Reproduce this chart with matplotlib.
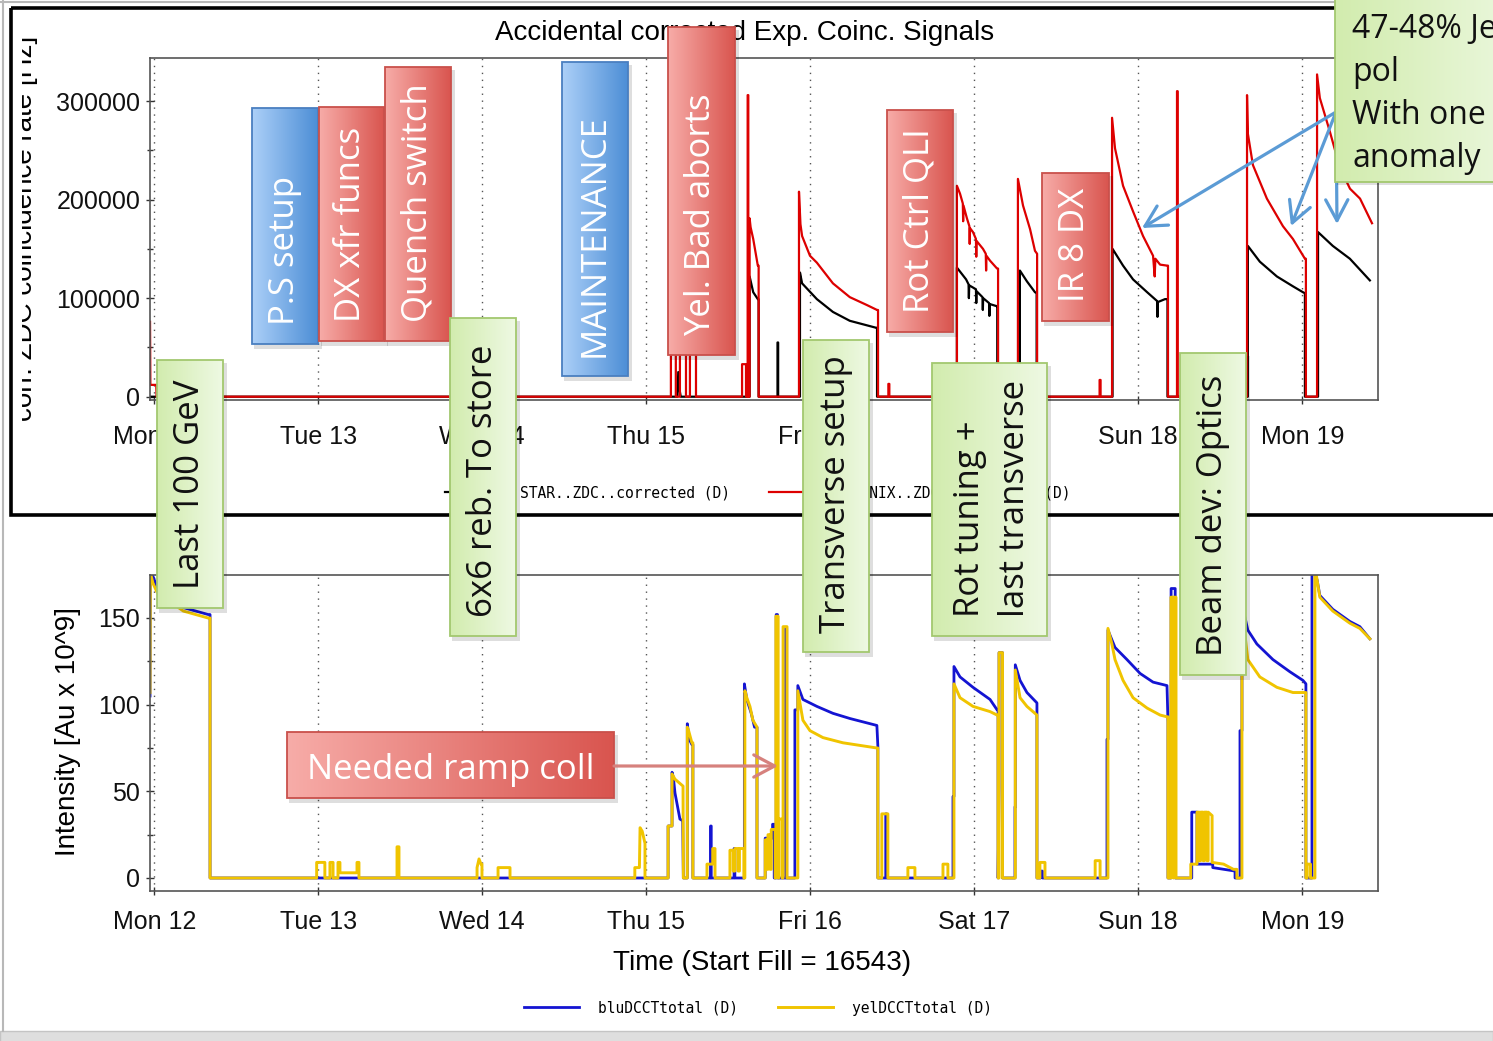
import numpy as np
import matplotlib.pyplot as plt
from matplotlib.patches import Rectangle
from matplotlib.colors import LinearSegmentedColormap
from matplotlib.transforms import Bbox, TransformedBbox

W, H = 1493, 1041

# x axis: days since Mon 12 00:00
days = [0, 1, 2, 3, 4, 5, 6, 7]
day_labels = ['Mon 12', 'Tue 13', 'Wed 14', 'Thu 15', 'Fri 16', 'Sat 17', 'Sun 18', 'Mon 19']

# --- top panel: ZDC coincidence rate [Hz] ---
phenix = [(-0.026, 76000), (-0.024, 12000), (0.012, 12000), (0.014, 0),
          (3.150, 0), (3.150, 44000), (3.180, 44000), (3.180, 0),
          (3.205, 0), (3.205, 44000), (3.242, 44000), (3.242, 0),
          (3.266, 0), (3.266, 44000), (3.303, 44000), (3.303, 0),
          (3.584, 0), (3.584, 33000), (3.608, 33000), (3.608, 0),
          (3.618, 0), (3.618, 306000), (3.622, 306000), (3.622, 0),
          (3.630, 0), (3.630, 181000), (3.636, 172000), (3.652, 160000), (3.680, 133000), (3.685, 133000), (3.685, 0),
          (3.931, 0), (3.931, 208000), (3.940, 175000), (3.950, 163000), (3.998, 143000), (4.040, 136000),
          (4.138, 115000), (4.241, 101000), (4.345, 93000), (4.407, 88000), (4.413, 88000), (4.413, 0),
          (4.476, 0), (4.476, 13000), (4.482, 13000), (4.482, 0),
          (4.894, 0), (4.894, 214000), (4.913, 206000), (4.930, 196000), (4.932, 178000), (4.934, 194000),
          (4.955, 181000), (4.970, 173000), (4.972, 155000), (4.974, 171000), (4.992, 167000), (5.010, 160000),
          (5.012, 142000), (5.014, 158000), (5.053, 150000), (5.070, 145000), (5.072, 128000), (5.074, 143000),
          (5.096, 138000), (5.139, 130000), (5.145, 130000), (5.145, 0),
          (5.266, 0), (5.266, 221000), (5.297, 194000), (5.340, 170000), (5.370, 148000), (5.383, 145000), (5.383, 0),
          (5.764, 0), (5.764, 17000), (5.770, 17000), (5.770, 0),
          (5.840, 0), (5.840, 283000), (5.858, 252000), (5.907, 214000), (5.968, 188000), (6.029, 163000),
          (6.090, 143000), (6.100, 122000), (6.104, 140000), (6.133, 134000), (6.175, 133000), (6.181, 133000), (6.181, 0),
          (6.236, 0), (6.236, 310000), (6.240, 310000), (6.240, 0),
          (6.663, 0), (6.663, 306000), (6.668, 267000), (6.699, 235000), (6.784, 201000), (6.882, 173000),
          (6.943, 160000), (7.016, 140000), (7.022, 140000), (7.022, 0),
          (7.090, 0), (7.090, 327000), (7.107, 303000), (7.168, 269000), (7.230, 232000), (7.291, 211000),
          (7.352, 201000), (7.425, 176000)]

star = [(-0.026, 0), (3.190, 0), (3.195, 25000), (3.205, 5000), (3.210, 0),
        (3.630, 0), (3.630, 122000), (3.652, 106000), (3.680, 99000), (3.685, 99000), (3.685, 0),
        (3.800, 0), (3.800, 55000), (3.804, 55000), (3.804, 0),
        (3.937, 0), (3.937, 126000), (3.950, 115000), (4.040, 99000), (4.138, 86000), (4.241, 77000),
        (4.400, 70000), (4.407, 70000), (4.407, 0),
        (4.894, 0), (4.894, 131000), (4.950, 119000), (4.965, 114000), (4.967, 100000), (4.969, 113000),
        (5.010, 109000), (5.012, 95000), (5.014, 107000), (5.050, 101000), (5.052, 88000), (5.054, 100000),
        (5.090, 95000), (5.092, 82000), (5.094, 94000), (5.134, 92000), (5.140, 92000), (5.140, 0),
        (5.278, 0), (5.278, 128000), (5.321, 117000), (5.370, 106000), (5.380, 105000), (5.380, 0),
        (5.843, 0), (5.843, 150000), (5.907, 133000), (5.968, 119000), (6.054, 106000), (6.115, 97000),
        (6.117, 81000), (6.119, 96000), (6.163, 99000), (6.178, 99000), (6.178, 0),
        (6.668, 0), (6.668, 153000), (6.741, 137000), (6.845, 122000), (6.943, 112000), (7.004, 106000),
        (7.016, 105000), (7.016, 0),
        (7.096, 0), (7.096, 167000), (7.186, 153000), (7.290, 140000), (7.412, 118000)]

# --- bottom panel: beam intensity [Au x 10^9] ---
blu = [(-0.026, 105), (-0.024, 178), (0.016, 168), (0.177, 156), (0.328, 152), (0.340, 152), (0.340, 0),
       (3.133, 0), (3.133, 30), (3.157, 30), (3.157, 61), (3.165, 58), (3.175, 49), (3.205, 34), (3.222, 33), (3.226, 0),
       (3.250, 0), (3.250, 89), (3.262, 80), (3.278, 77), (3.284, 77), (3.284, 0),
       (3.392, 0), (3.392, 30), (3.396, 30), (3.396, 0),
       (3.535, 0), (3.535, 17), (3.540, 17), (3.540, 0),
       (3.598, 0), (3.598, 112), (3.613, 103), (3.640, 95), (3.660, 87), (3.675, 87), (3.675, 0),
       (3.725, 0), (3.725, 23), (3.770, 23), (3.770, 31), (3.780, 31), (3.780, 0),
       (3.792, 0), (3.792, 152), (3.800, 152), (3.800, 0),
       (3.850, 0), (3.850, 144), (3.856, 144), (3.856, 0),
       (3.906, 0), (3.906, 97), (3.924, 97), (3.924, 111), (3.955, 103), (4.040, 99), (4.138, 95),
       (4.242, 92), (4.406, 88), (4.412, 76), (4.412, 0),
       (4.460, 0), (4.460, 37), (4.466, 37), (4.466, 0),
       (4.870, 0), (4.870, 47), (4.876, 47), (4.876, 122), (4.913, 116), (4.992, 110), (5.096, 103),
       (5.139, 97), (5.145, 97), (5.145, 0),
       (5.151, 52), (5.151, 130), (5.172, 130), (5.172, 0),
       (5.248, 0), (5.248, 41), (5.250, 41), (5.250, 123), (5.279, 114), (5.321, 107), (5.382, 101), (5.382, 0),
       (5.404, 0), (5.404, 4), (5.415, 4), (5.415, 0),
       (5.809, 0), (5.809, 80), (5.815, 80), (5.815, 143), (5.858, 133), (5.931, 126), (6.011, 118),
       (6.090, 113), (6.175, 111), (6.181, 90), (6.181, 0),
       (6.200, 0), (6.200, 167), (6.225, 167), (6.225, 0),
       (6.326, 0), (6.326, 38), (6.358, 38), (6.358, 8), (6.454, 8), (6.454, 6), (6.590, 4), (6.590, 0),
       (6.620, 0), (6.620, 85), (6.632, 85), (6.632, 158), (6.668, 143), (6.723, 135), (6.821, 126),
       (6.924, 119), (7.004, 114), (7.022, 112), (7.022, 0),
       (7.059, 0), (7.059, 180), (7.090, 172), (7.107, 163), (7.186, 155), (7.290, 148), (7.351, 145), (7.412, 138)]

yel = [(-0.026, 107), (-0.024, 176), (-0.008, 170), (0.016, 165), (0.177, 154), (0.328, 150), (0.340, 150), (0.340, 0),
       (0.990, 0), (0.990, 9), (1.040, 9), (1.040, 0),
       (1.071, 0), (1.071, 9), (1.090, 9), (1.090, 0),
       (1.120, 0), (1.120, 9), (1.132, 9), (1.132, 3), (1.236, 3), (1.236, 9), (1.248, 9), (1.248, 0),
       (1.480, 0), (1.480, 18), (1.492, 18), (1.492, 0),
       (1.968, 0), (1.968, 6), (1.980, 11), (1.992, 8), (1.998, 8), (1.998, 0),
       (2.096, 0), (2.096, 6), (2.169, 6), (2.169, 0),
       (2.930, 0), (2.930, 6), (2.958, 6), (2.962, 29), (2.975, 27), (2.992, 20), (2.992, 0),
       (3.133, 0), (3.133, 30), (3.157, 30), (3.157, 60), (3.175, 57), (3.224, 53), (3.226, 0),
       (3.250, 0), (3.250, 87), (3.258, 85), (3.278, 78), (3.284, 78), (3.284, 0),
       (3.370, 0), (3.370, 8), (3.405, 8), (3.405, 17), (3.419, 17), (3.419, 0),
       (3.510, 0), (3.510, 16), (3.530, 16), (3.530, 4), (3.540, 4), (3.540, 17), (3.560, 17), (3.560, 4),
       (3.568, 4), (3.568, 17), (3.595, 17), (3.595, 0),
       (3.601, 0), (3.601, 108), (3.613, 104), (3.632, 99), (3.650, 91), (3.675, 87), (3.675, 0),
       (3.725, 0), (3.725, 22), (3.735, 22), (3.735, 5), (3.742, 5), (3.742, 25), (3.755, 25), (3.755, 5),
       (3.762, 5), (3.762, 28), (3.786, 28), (3.786, 0),
       (3.790, 0), (3.790, 151), (3.804, 151), (3.804, 0),
       (3.808, 0), (3.808, 34), (3.828, 34), (3.828, 0),
       (3.834, 0), (3.834, 145), (3.858, 145), (3.858, 0),
       (3.924, 0), (3.924, 108), (3.937, 101), (3.955, 91), (3.998, 85), (4.077, 81), (4.199, 78),
       (4.406, 75), (4.412, 75), (4.412, 0),
       (4.436, 0), (4.436, 37), (4.473, 37), (4.473, 0),
       (4.595, 0), (4.595, 6), (4.638, 6), (4.638, 0),
       (4.809, 0), (4.809, 8), (4.839, 8), (4.839, 0),
       (4.876, 0), (4.876, 112), (4.913, 104), (4.992, 99), (5.096, 96), (5.139, 94), (5.145, 94), (5.145, 0),
       (5.151, 0), (5.151, 130), (5.172, 130), (5.172, 0),
       (5.250, 0), (5.250, 120), (5.279, 104), (5.321, 99), (5.382, 94), (5.382, 0),
       (5.400, 0), (5.400, 9), (5.431, 9), (5.431, 0),
       (5.737, 0), (5.737, 10), (5.767, 10), (5.767, 0),
       (5.815, 0), (5.815, 144), (5.839, 135), (5.858, 126), (5.907, 114), (5.968, 104), (6.054, 98),
       (6.133, 94), (6.175, 93), (6.181, 93), (6.181, 0),
       (6.199, 0), (6.199, 162), (6.214, 162), (6.214, 0), (6.216, 0), (6.216, 162), (6.230, 162), (6.230, 0),
       (6.320, 0), (6.320, 8), (6.358, 8), (6.358, 38), (6.372, 38), (6.372, 10), (6.380, 10), (6.380, 38),
       (6.395, 38), (6.395, 10), (6.403, 10), (6.403, 38), (6.418, 38), (6.418, 10), (6.426, 10), (6.426, 38),
       (6.450, 36), (6.450, 9), (6.520, 8), (6.580, 5), (6.601, 5), (6.601, 0),
       (6.632, 0), (6.632, 155), (6.668, 126), (6.741, 116), (6.845, 110), (6.943, 107), (7.004, 107),
       (7.022, 107), (7.022, 0),
       (7.030, 0), (7.030, 8), (7.050, 8), (7.050, 0),
       (7.077, 0), (7.077, 180), (7.090, 172), (7.107, 162), (7.186, 154), (7.290, 147), (7.351, 144), (7.412, 138)]


def xy(pairs):
    a = np.array(pairs, dtype=float)
    return a[:, 0], a[:, 1]


tick_font = dict(family='Liberation Sans', size=18)
label_fs = 20
fig = plt.figure(figsize=(W / 100, H / 100), dpi=100)
fig.patch.set_facecolor('white')

ax1 = fig.add_axes([150 / W, 1 - 400 / H, 1228 / W, 342 / H])
ax2 = fig.add_axes([150 / W, 1 - 891 / H, 1228 / W, 316 / H])

t, v = xy(star)
ax1.plot(t, v, color='black', lw=1.6, label='STAR..ZDC..corrected (D)')
t, v = xy(phenix)
ax1.plot(t, v, color='#dd0000', lw=1.6, label='PHENIX..ZDC..corrected (D)')
ax1.set_ylim(-3350, 343650)
ax1.set_yticks([0, 100000, 200000, 300000])
ax1.set_yticks([50000, 150000, 250000], minor=True)

t, v = xy(blu)
ax2.plot(t, v, color='#1414d2', lw=2.0, label='bluDCCTtotal (D)')
t, v = xy(yel)
ax2.plot(t, v, color='#f0c400', lw=2.1, label='yelDCCTtotal (D)')
ax2.set_ylim(-7.5, 174.8)
ax2.set_yticks([0, 50, 100, 150])
ax2.set_yticks([25, 75, 125], minor=True)

for ax, xpad in ((ax1, 15), (ax2, 11)):
    ax.set_xlim(-0.0262, 7.4616)
    ax.set_xticks(days)
    ax.set_xticklabels(day_labels)
    ax.grid(axis='x', linestyle=(0, (1, 4)), color='#555555', lw=1.0)
    ax.tick_params(which='major', direction='inout', length=6, width=1, color='#333333')
    ax.tick_params(axis='x', which='major', pad=xpad)
    ax.tick_params(axis='y', which='major', pad=4)
    ax.tick_params(which='minor', direction='inout', length=4, width=1, color='#333333')
    for lab in ax.get_xticklabels() + ax.get_yticklabels():
        lab.set_fontfamily(tick_font['family'])
        lab.set_fontsize(tick_font['size'])
        lab.set_color('#111111')
    for s in ax.spines.values():
        s.set_color('#555555')
        s.set_linewidth(1.2)

ax1.text((745 - 150) / 1228, (400 - 33) / 342, 'Accidental corrected Exp. Coinc. Signals',
         transform=ax1.transAxes, ha='center', va='center', fontsize=label_fs, family='Liberation Sans')
yl = ax1.set_ylabel('corr. ZDC coincidence rate [Hz]', fontsize=label_fs, family='Liberation Sans')
yl.set_va('center')
ax1.yaxis.set_label_coords((25 - 150) / 1228, (400 - 228) / 342)
yl.set_clip_box(TransformedBbox(Bbox([[22 / W, 0], [0.09, 1]]), fig.transFigure))
yl.set_clip_on(True)

ax2.set_ylabel('Intensity [Au x 10^9]', fontsize=label_fs, family='Liberation Sans', va='center')
ax2.yaxis.set_label_coords((68 - 150) / 1228, (891 - 732) / 316)
ax2.set_xlabel('Time (Start Fill = 16543)', fontsize=label_fs, family='Liberation Sans', va='center')
ax2.xaxis.set_label_coords((762 - 150) / 1228, (891 - 963) / 316)

leg_kw = dict(loc='center', bbox_transform=fig.transFigure, ncol=2, frameon=False,
              prop={'family': 'DejaVu Sans Mono', 'size': 10.5}, handlelength=3.8,
              handletextpad=1.3, columnspacing=2.7, borderpad=0)
ax1.legend(bbox_to_anchor=(758 / W, 1 - 493 / H), **leg_kw)
ax2.legend(bbox_to_anchor=(758 / W, 1 - 1008 / H), **leg_kw)

# ---- overlay in pixel coordinates for frames and slide annotations ----
ov = fig.add_axes([0, 0, 1, 1], zorder=10)
ov.axis('off')

ov.add_patch(Rectangle((0, 1031), W, 12, fc='#dedede', ec='#c4c4c4', lw=1, zorder=1))
ov.plot([3, 3], [0, 1031], color='#b8b8b8', lw=1.5, zorder=1)
ov.plot([0, W], [2, 2], color='#b8b8b8', lw=1.5, zorder=1)
ov.add_patch(Rectangle((11, 8), 1600, 507, fill=False, ec='black', lw=2.6, zorder=2))

styles = {
    'red': ('#f7aca8', '#d9554f', '#c9504b', 'white'),
    'blue': ('#acd0f8', '#4d8ed6', '#4a7fc0', 'white'),
    'green': ('#d2ecae', '#eef9e3', '#a3c86f', '#111111'),
}
grad = np.linspace(0, 1, 128)[None, :]
zc = [5]


def box(x0, y0, x1, y1, kind, text, rot=90, fs=25, ls=1.3, dx=0):
    c0, c1, edge, tc = styles[kind]
    z = zc[0]
    zc[0] += 1
    cmap = LinearSegmentedColormap.from_list(kind, [c0, c1])
    ov.add_patch(Rectangle((x0 + 2, y0 + 3), x1 - x0 + 2, y1 - y0 + 2, fc='black', alpha=0.13, lw=0, zorder=z))
    ov.imshow(grad, cmap=cmap, extent=(x0, x1, y1, y0), aspect='auto', interpolation='bilinear', zorder=z + 0.1)
    ov.add_patch(Rectangle((x0, y0), x1 - x0, y1 - y0, fill=False, ec=edge, lw=1.3, zorder=z + 0.2))
    if rot == 90:
        ov.text((x0 + x1) / 2 + dx, y1 - 19, text, rotation=90, ha='center', va='bottom', color=tc,
                fontsize=fs, family='Open Sans', multialignment='left', linespacing=ls, zorder=z + 0.3)
    else:
        ov.text((x0 + x1) / 2, (y0 + y1) / 2 + 5, text, ha='center', va='center', color=tc,
                fontsize=fs, family='Open Sans', zorder=z + 0.3)


box(252, 108, 318, 344, 'blue', 'P.S setup')
box(319, 107, 384, 341, 'red', 'DX xfr funcs')
box(385, 67, 451, 341, 'red', 'Quench switch')
box(562, 62, 628, 376, 'blue', 'MAINTENANCE')
box(668, 27, 735, 355, 'red', 'Yel. Bad aborts')
box(887, 110, 953, 332, 'red', 'Rot Ctrl QLI')
box(1042, 173, 1109, 321, 'red', 'IR 8 DX')
box(287, 732, 614, 798, 'red', 'Needed ramp coll', rot=0)
ov.annotate('', xy=(778, 766), xytext=(614, 766),
            arrowprops=dict(arrowstyle='->,head_length=1.5,head_width=0.8', color='#d6817d', lw=2.3,
                            shrinkA=0, shrinkB=0), zorder=zc[0])
zc[0] += 1
box(157, 360, 223, 608, 'green', 'Last 100 GeV')
box(450, 318, 516, 636, 'green', '6x6 reb. To store')
box(803, 340, 869, 652, 'green', 'Transverse setup')
box(932, 363, 1047, 636, 'green', 'Rot tuning +\nlast transverse', ls=1.45, dx=3)
box(1180, 353, 1246, 675, 'green', 'Beam dev: Optics')

for tip in [(1142, 228), (1291, 226), (1337, 224)]:
    ov.annotate('', xy=tip, xytext=(1336, 112),
                arrowprops=dict(arrowstyle='->,head_length=1.5,head_width=0.8', color='#5b9bd5', lw=2.3,
                                shrinkA=0, shrinkB=0), zorder=zc[0])
zc[0] += 1
z = zc[0]
ov.add_patch(Rectangle((1337, 3), 200, 182, fc='black', alpha=0.13, lw=0, zorder=z))
ov.imshow(grad, cmap=LinearSegmentedColormap.from_list('n', ['#d2ecae', '#eef9e3']),
          extent=(1335, 1540, 182, -5), aspect='auto', interpolation='bilinear', zorder=z + 0.1)
ov.add_patch(Rectangle((1335, -5), 205, 187, fill=False, ec='#a3c86f', lw=1.3, zorder=z + 0.2))
ov.text(1352, 13, '47-48% Jet\npol\nWith one\nanomaly', ha='left', va='top', fontsize=23,
        family='Open Sans', linespacing=1.4, color='#111111', zorder=z + 0.3)

ov.set_xlim(0, W)
ov.set_ylim(H, 0)

fig.savefig('out.png', dpi=100)
